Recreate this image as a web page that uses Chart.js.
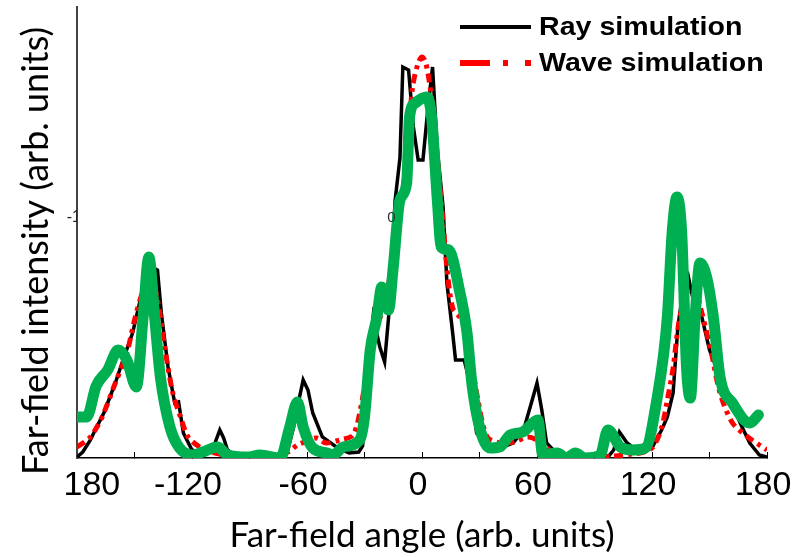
<!DOCTYPE html>
<html>
<head>
<meta charset="utf-8">
<script src="https://cdn.jsdelivr.net/npm/chart.js@4.4.0/dist/chart.umd.min.js"></script>
<style>
    html, body { margin: 0; padding: 0; background: #fff; }
    #wrap { width: 796px; height: 557px; }
</style>
</head>
<body>
<div id="wrap"><canvas id="farFieldChart"></canvas></div>
<script>
// Far-field angle ticks (every 30 deg, labels every 60 deg)
const xTickValues = [-180, -150, -120, -90, -60, -30, 0, 30, 60, 90, 120, 150, 180];
// the first label sits a bit right of its tick in the figure, hence the leading spaces
const xTickLabels = ['    180', '', '-120', '', '-60', '', '0', '', '60', '', '120', '', '180'];
const yTickValues = [240];
const yTickLabels = ['-1'];

// Ray simulation (black)
const rayAngle = [-180, -177, -173, -170, -166, -163, -160, -156, -151, -147, -143, -140, -138, -136,
    -132.5, -129, -127, -124.5, -120, -116, -112, -108, -105.5, -103.5, -101.5, -98, -95, -85, -75,
    -70, -67, -64, -62, -59.5, -57, -52, -44, -38, -33, -31, -29, -27, -25.5, -22, -19.5, -17, -14,
    -11.5, -10, -7, -4.5, -2, 0.5, 3, 5.5, 8, 11, 13, 16, 17.5, 22, 25, 28.5, 34, 41, 47.5, 53, 57.5,
    60, 62.5, 65, 70, 79, 90, 97, 100, 103, 107, 114, 120, 125, 128, 131, 133.5, 136, 139, 141.5,
    146, 150, 155.5, 160.5, 166, 171, 176, 180];
const rayIntensity = [1, 6, 18, 30, 45, 60, 75, 98, 125, 158, 181, 190, 188, 145,
    91, 55, 56, 25, 8, 5, 5, 15, 28, 20, 8, 3, 1, 0, 0,
    8, 31, 60, 78, 68, 45, 21, 10, 5, 6, 12, 58, 110, 141, 111, 96, 150, 258,
    300, 391, 388, 331, 298, 298, 348, 391, 308, 251, 175, 125, 98, 98, 75, 25, 11, 10, 15, 28, 58,
    75, 48, 15, 5, 1, 0, 1, 8, 26, 15, 5, 10, 28, 41, 65, 131, 165, 181, 158,
    141, 108, 81, 61, 35, 15, 3, 1];

// Wave simulation (red dash-dot)
const waveAngle = [-180, -176, -173, -169, -166, -160, -154, -150, -146, -142, -138, -134, -130, -126,
    -122, -116, -110, -100, -80, -70, -65, -60, -55, -50, -43, -36, -32, -28, -24, -20, -16, -12, -8,
    -5, -2, 0, 2, 5, 8, 11, 13, 16, 20, 23.5, 26, 29, 34, 41, 48, 55, 60, 65, 72, 85, 100, 110, 116,
    120.5, 125, 128, 131, 134, 138, 142, 146, 151, 155.5, 162, 170, 176, 180];
const waveIntensity = [11, 16, 21, 33, 45, 75, 105, 138, 165, 185, 158, 108, 65, 41,
    21, 11, 6, 2, 1, 6, 13, 17, 20, 15, 18, 23, 50, 95, 130, 150, 190, 240, 300,
    370, 395, 401, 395, 360, 300, 235, 190, 150, 140, 125, 95, 60, 21, 15, 16, 21, 18, 10, 3, 1, 2, 4, 6,
    11, 30, 58, 90, 135, 165, 170, 145, 105, 65, 35, 21, 13, 8];

// Measured curve (thick green)
const measAngle = [-180, -175, -170, -164, -158.5, -154, -149, -145.5, -142.5, -139.5, -136.5, -131.5,
    -126.5, -119.5, -114.5, -106.5, -101.5, -91, -84.5, -74, -69, -65, -62, -57, -49.5, -46.5, -41,
    -32.5, -30, -27, -23.5, -21, -17.5, -15, -11.5, -8, -6.5, -3.5, 2.5, 5, 8, 10, 14, 19.5, 23.5, 26,
    30, 35.5, 40.5, 46, 52.5, 60.5, 63, 70.5, 75.5, 80, 85, 93, 97, 103.5, 110, 116.5, 122.5, 128,
    130.5, 133, 135.5, 138, 140, 142.5, 145, 148.5, 152, 155.5, 162, 171, 175.5];
const measIntensity = [41, 41, 72, 88, 108, 98, 71, 141, 201, 141, 81, 31,
    10, 3, 6, 11, 3, 1, 3, 0, 31, 56, 31, 10, 5, 3, 11,
    18, 41, 108, 141, 171, 148, 191, 258, 275, 341, 355, 361, 341, 258, 211, 208, 168, 125, 75,
    31, 10, 11, 23, 26, 38, 3, 5, 0, 5, 0, 3, 28, 11, 8, 10, 58, 141,
    225, 261, 225, 91, 60, 141, 195, 181, 141, 81, 55, 35, 43];

const legendOrder = ['Ray simulation', 'Wave simulation'];

const toPoints = (xs, ys) => xs.map((x, i) => ({ x: x, y: ys[i] }));

// pick a title size so the text spans roughly the width it has in the figure
const titleFont = 'Lato, "Open Sans", sans-serif';
function fitSize(text, targetWidth) {
    const m = document.createElement('canvas').getContext('2d');
    m.font = '30px ' + titleFont;
    return Math.round(30 * targetWidth / m.measureText(text).width);
}
const xTitle = 'Far-field angle (arb. units)';
const yTitle = 'Far-field intensity (arb. units)';

// Legend box in the top right corner, plus the stray "0" label of the original figure
const cornerLegend = {
    id: 'cornerLegend',
    afterDraw(chart) {
        const ctx = chart.ctx;
        ctx.save();
        legendOrder.forEach((name, i) => {
            const ds = chart.data.datasets.find(d => d.label === name);
            const y = 27 + i * 36;
            ctx.strokeStyle = ds.borderColor;
            ctx.lineWidth = ds.legendWidth;
            ctx.setLineDash(ds.legendDash);
            ctx.beginPath();
            ctx.moveTo(460, y);
            ctx.lineTo(531, y);
            ctx.stroke();
            ctx.setLineDash([]);
            ctx.fillStyle = '#000';
            ctx.font = 'bold 26px "Liberation Sans", Arial, sans-serif';
            ctx.textBaseline = 'middle';
            ctx.save();
            ctx.translate(539, y + 1);
            ctx.scale(1.1, 1);
            ctx.fillText(ds.label, 0, 0);
            ctx.restore();
        });
        // leftover "0" tick label inside the plot
        const xs = chart.scales.x, ys = chart.scales.y;
        ctx.font = '15px "Liberation Sans", Arial, sans-serif';
        ctx.fillStyle = '#333';
        ctx.textAlign = 'center';
        ctx.textBaseline = 'middle';
        ctx.fillText('0', xs.getPixelForValue(-16), ys.getPixelForValue(yTickValues[0]));
        ctx.restore();
    }
};

document.fonts.load('30px Lato').then(() => {
    const ctx = document.getElementById('farFieldChart').getContext('2d');
    new Chart(ctx, {
        type: 'line',
        data: {
            datasets: [
                {
                    label: 'Measured',
                    data: toPoints(measAngle, measIntensity),
                    borderColor: '#00b050',
                    borderWidth: 11,
                    cubicInterpolationMode: 'monotone',
                    borderCapStyle: 'round',
                    borderJoinStyle: 'round',
                    pointRadius: 0,
                    fill: false
                },
                {
                    label: 'Wave simulation',
                    data: toPoints(waveAngle, waveIntensity),
                    borderColor: '#ff0000',
                    borderWidth: 5,
                    borderDash: [9, 5, 4, 5],
                    tension: 0.3,
                    pointRadius: 0,
                    fill: false,
                    legendWidth: 6,
                    legendDash: [30, 13, 5, 17]
                },
                {
                    label: 'Ray simulation',
                    data: toPoints(rayAngle, rayIntensity),
                    borderColor: '#000000',
                    borderWidth: 3.5,
                    tension: 0,
                    pointRadius: 0,
                    fill: false,
                    legendWidth: 4,
                    legendDash: []
                }
            ]
        },
        options: {
            responsive: true,
            maintainAspectRatio: false,
            animation: false,
            devicePixelRatio: 1,
            layout: { padding: { left: 0, right: 29, top: 7, bottom: 0 } },
            plugins: {
                legend: { display: false },
                tooltip: { enabled: false }
            },
            scales: {
                x: {
                    type: 'linear',
                    min: -180,
                    max: 180,
                    afterBuildTicks: scale => { scale.ticks = xTickValues.map(v => ({ value: v })); },
                    afterFit: scale => {
                        scale.height = 99;
                        scale.paddingLeft = 0;
                        scale.paddingRight = 0;
                    },
                    grid: {
                        display: true,
                        drawOnChartArea: false,
                        drawTicks: true,
                        tickLength: -6,
                        color: '#000',
                        lineWidth: 1
                    },
                    border: { display: true, color: '#000', width: 1.5 },
                    ticks: {
                        autoSkip: false,
                        maxRotation: 0,
                        padding: 13,
                        labelOffset: -4,
                        color: '#000',
                        font: { family: '"Liberation Sans", Arial, sans-serif', size: 34 },
                        callback: (value, index) => xTickLabels[index]
                    },
                    title: {
                        display: true,
                        text: xTitle,
                        color: '#000',
                        font: { family: titleFont, size: fitSize(xTitle, 386) },
                        padding: { top: 0, bottom: 0 }
                    }
                },
                y: {
                    min: 0,
                    max: 451,
                    afterBuildTicks: scale => { scale.ticks = yTickValues.map(v => ({ value: v })); },
                    afterFit: scale => { scale.width = 77; },
                    grid: { display: false, drawTicks: false },
                    border: { display: true, color: '#444', width: 2 },
                    ticks: {
                        padding: -4,
                        color: '#222',
                        font: { family: '"Liberation Sans", Arial, sans-serif', size: 16 },
                        callback: (value, index) => yTickLabels[index]
                    },
                    title: {
                        display: true,
                        // trailing spaces push the visible text a little lower, as in the figure
                        text: yTitle + '    ',
                        color: '#000',
                        font: { family: titleFont, size: fitSize(yTitle, 445) },
                        padding: { top: 15, bottom: 0 }
                    }
                }
            }
        },
        plugins: [cornerLegend]
    });
});
</script>
</body>
</html>
